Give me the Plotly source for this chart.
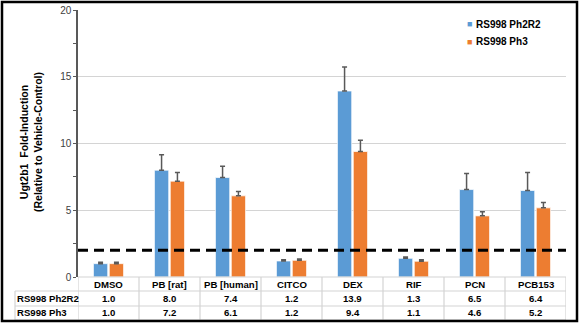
import plotly.graph_objects as go

categories = ["DMSO", "PB [rat]", "PB [human]", "CITCO", "DEX", "RIF", "PCN", "PCB153"]
series_names = ["RS998 Ph2R2", "RS998 Ph3"]
ph2r2 = [1.0, 8.0, 7.4, 1.2, 13.9, 1.3, 6.5, 6.4]
ph3 = [1.0, 7.2, 6.1, 1.2, 9.4, 1.1, 4.6, 5.2]
ph2r2_bar = [1.0, 8.0, 7.45, 1.2, 13.93, 1.4, 6.55, 6.48]
ph3_bar = [1.0, 7.18, 6.08, 1.25, 9.4, 1.18, 4.58, 5.18]
ph2r2_err = [0.1, 1.15, 0.85, 0.1, 1.8, 0.1, 1.2, 1.35]
ph3_err = [0.1, 0.65, 0.33, 0.1, 0.85, 0.12, 0.3, 0.4]
threshold = 2.0
y_ticks = [0, 5, 10, 15, 20]
y_title = ["Ugt2b1  Fold-Induction", "(Relative to Vehicle-Control)"]

BLUE = "#5B9BD5"
ORANGE = "#ED7D31"
GRID = "#D4D4D4"
FONT = "Arial, Liberation Sans, sans-serif"

W, H = 581, 326
ML, MR, MT, MB = 78, 15, 10, 49
PW = W - ML - MR
PH = H - MT - MB


def px_x(p):
    return (p - ML) / PW


def px_y(p):
    return (H - MB - p) / PH


fig = go.Figure()
for name, vals, errs, col in [(series_names[0], ph2r2_bar, ph2r2_err, BLUE),
                              (series_names[1], ph3_bar, ph3_err, ORANGE)]:
    fig.add_trace(go.Bar(
        x=categories, y=vals, name=name,
        marker=dict(color=col, line=dict(color="rgba(255,255,255,0.7)", width=1)),
        error_y=dict(type="data", array=errs, arrayminus=[0] * len(errs),
                     symmetric=False, color="#595959", thickness=1.5, width=2.5),
        showlegend=False,
    ))

shapes = []
# threshold dashed line
shapes.append(dict(type="line", xref="paper", yref="y", x0=0, x1=1, y0=threshold, y1=threshold,
                   line=dict(color="black", width=3, dash="10px,6px")))

# table lines
row_px = [277, 291, 306, 320]
y_rows = [px_y(p) for p in row_px]
x_left_tab = px_x(15)
shapes.append(dict(type="line", xref="paper", yref="paper", x0=0, x1=1, y0=y_rows[0], y1=y_rows[0],
                   line=dict(color=GRID, width=1.2)))
for yr in y_rows[1:]:
    shapes.append(dict(type="line", xref="paper", yref="paper", x0=x_left_tab, x1=1, y0=yr, y1=yr,
                       line=dict(color=GRID, width=1.2)))
shapes.append(dict(type="line", xref="paper", yref="paper", x0=x_left_tab, x1=x_left_tab,
                   y0=y_rows[1], y1=y_rows[3], line=dict(color=GRID, width=1.2)))
for k in range(len(categories) + 1):
    shapes.append(dict(type="line", xref="x", yref="paper", x0=k - 0.5, x1=k - 0.5,
                       y0=y_rows[0], y1=y_rows[3], line=dict(color=GRID, width=1.2)))

# outer border
shapes.append(dict(type="rect", xref="paper", yref="paper",
                   x0=px_x(2), x1=px_x(577), y0=px_y(2), y1=px_y(321),
                   line=dict(color="black", width=2.5), fillcolor="rgba(0,0,0,0)"))

annotations = []
tf = dict(family=FONT, size=9.6, color="black")
for i, c in enumerate(categories):
    annotations.append(dict(x=c, xref="x", y=(y_rows[0] + y_rows[1]) / 2, yref="paper",
                            text="<b>%s</b>" % c, showarrow=False, font=tf,
                            xanchor="center", yanchor="middle"))
    annotations.append(dict(x=c, xref="x", y=(y_rows[1] + y_rows[2]) / 2, yref="paper",
                            text="<b>%.1f</b>" % ph2r2[i], showarrow=False, font=tf,
                            xanchor="center", yanchor="middle"))
    annotations.append(dict(x=c, xref="x", y=(y_rows[2] + y_rows[3]) / 2, yref="paper",
                            text="<b>%.1f</b>" % ph3[i], showarrow=False, font=tf,
                            xanchor="center", yanchor="middle"))
for j, nm in enumerate(series_names):
    annotations.append(dict(x=px_x(15), xref="paper", y=(y_rows[j + 1] + y_rows[j + 2]) / 2,
                            yref="paper", text="<b>%s</b>" % nm, showarrow=False,
                            xanchor="left", yanchor="middle", font=tf))

# legend
for j, (nm, col) in enumerate([(series_names[0], BLUE), (series_names[1], ORANGE)]):
    yy = px_y(24 + 18 * j)
    annotations.append(dict(x=px_x(465), xref="paper", y=yy, yref="paper",
                            text="<span style='color:%s'>■</span>" % col, showarrow=False,
                            xanchor="left", yanchor="middle", font=dict(family=FONT, size=9)))
    annotations.append(dict(x=px_x(474), xref="paper", y=yy, yref="paper",
                            text="<b>%s</b>" % nm, showarrow=False, xanchor="left",
                            yanchor="middle", font=dict(family=FONT, size=10, color="black")))

# y-axis title
annotations.append(dict(x=px_x(31), xref="paper", y=px_y(142), yref="paper",
                        text="<b>%s</b><br><b>%s</b>" % (y_title[0], y_title[1]),
                        textangle=-90, showarrow=False, xanchor="center", yanchor="middle",
                        font=dict(family=FONT, size=10.5, color="black")))

fig.update_layout(
    width=W, height=H,
    margin=dict(l=ML, r=MR, t=MT, b=MB, autoexpand=False),
    paper_bgcolor="white", plot_bgcolor="white",
    barmode="group", bargap=0.48, bargroupgap=0.1,
    shapes=shapes, annotations=annotations,
    font=dict(family=FONT),
    xaxis=dict(showticklabels=False, showgrid=False, zeroline=False, showline=False,
               range=[-0.5, len(categories) - 0.5], fixedrange=True, automargin=False),
    yaxis=dict(range=[0, 20], tickvals=y_ticks, showgrid=True, gridcolor=GRID, gridwidth=1,
               zeroline=False, showline=True, linecolor="#595959", linewidth=1.5,
               ticks="outside", ticklen=3, tickcolor="#595959", automargin=False,
               tickfont=dict(family=FONT, size=10, color="#404040"),
               minor=dict(dtick=2.5, ticks="outside", ticklen=3, tickcolor="#595959", showgrid=False),
               fixedrange=True),
)

fig.write_html("out.html")
